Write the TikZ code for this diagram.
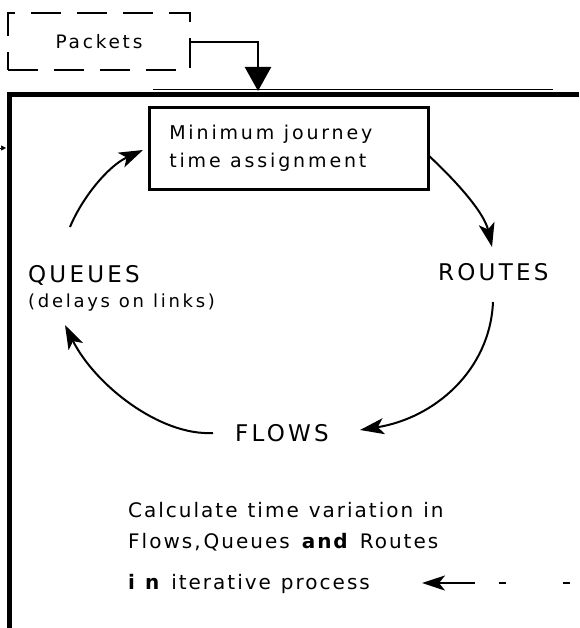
\documentclass[tikz,border=0pt]{standalone}
\usepackage{fontspec}
\setmainfont{DejaVu Sans}
\newfontfamily\tfont[LetterSpace=10]{DejaVu Sans}
\newfontfamily\mfont[LetterSpace=15]{DejaVu Sans}
\newfontfamily\lfont[LetterSpace=14]{DejaVu Sans}
\newcommand\wsk{\spaceskip=0.5em plus 0.1em\relax}
\usetikzlibrary{arrows.meta}
\tikzset{
  cyc/.style={line width=2pt,-{Stealth[length=24pt,width=16pt,inset=6pt]}},
  lab/.style={inner sep=0pt,anchor=base west,font=\lfont\fontsize{23}{26}\selectfont},
  txt/.style={inner sep=0pt,anchor=base west,font=\tfont\fontsize{20}{22}\selectfont},
}
\begin{document}
\begin{tikzpicture}[x=1pt,y=-1pt]
\useasboundingbox (0,0) rectangle (579,628);
% frame
\draw[line width=4.5pt] (9.5,628) -- (9.5,94.5) -- (579,94.5);
\draw[line width=0.8pt] (153,89.5) -- (553,89.5);
% packets
\node[draw,line width=2pt,dash pattern=on 30pt off 16pt,minimum width=182pt,minimum height=57pt,inner sep=0pt,
  font=\mfont\fontsize{18.5}{20}\selectfont] (pk) at (99,41.5) {Packets};
\coordinate (pktip) at (258,91);
\draw[line width=2.5pt,-{Triangle[length=24pt,width=26pt]}] (pk.east |- 0,42) -| (pktip);
% main box
\node[draw,line width=2.5pt,anchor=north west,minimum width=269.5pt,minimum height=82pt,
  text width=239pt,inner xsep=20pt,inner ysep=0pt,align=left,
  font=\mfont\fontsize{19}{28}\selectfont] (mj) at (148,106.5) {\wsk Minimum journey\\time assignment};
% labels
\node[lab] (rt) at (438,280) {ROUTES};
\node[lab] (qu) at (28,282) {QUEUES};
\node[inner sep=0pt,anchor=base west,font=\mfont\fontsize{18}{20}\selectfont] (dl) at (28,307) {\wsk(delays on links)};
\node[lab] (fl) at (235,441) {FLOWS};
% cycle arrows
\coordinate (a1s) at (70,227); \coordinate (a1e) at (143,150);
\coordinate (a2s) at (428,155); \coordinate (a2e) at (492,247);
\coordinate (a3s) at (493,302); \coordinate (a3e) at (360,430);
\coordinate (a4s) at (213,433); \coordinate (a4e) at (65,325);
\draw[cyc] (a1s) .. controls (82,198) and (108,166) .. (a1e);
\draw[cyc] (a2s) .. controls (455,180) and (484,212) .. (a2e);
\draw[cyc] (a3s) .. controls (490,370) and (435,418) .. (a3e);
\draw[cyc] (a4s) .. controls (160,436) and (95,385) .. (a4e);
% small arrow tip at left
\coordinate (ls) at (0,148); \coordinate (le) at (6,148);
\draw[line width=0.5pt,-{Triangle[length=5pt,width=5pt]}] (ls) -- (le);
% bottom text
\node[txt] (t1) at (128,517) {\wsk Calculate time variation in};
\node[txt] (t2) at (128,548) {\wsk Flows,\kern3pt Queues \textbf{and} Routes};
\node[txt] (t3) at (128,589) {\wsk\textbf{i n} iterative process};
% bottom dashed arrow
\coordinate (br) at (570,583); \coordinate (bt) at (422,583);
\draw[line width=2.5pt,dash pattern=on 7pt off 57pt on 7pt off 24pt on 80pt,
  -{Stealth[length=23pt,width=15pt,inset=6pt]}] (br) -- (bt);
\end{tikzpicture}
\end{document}
